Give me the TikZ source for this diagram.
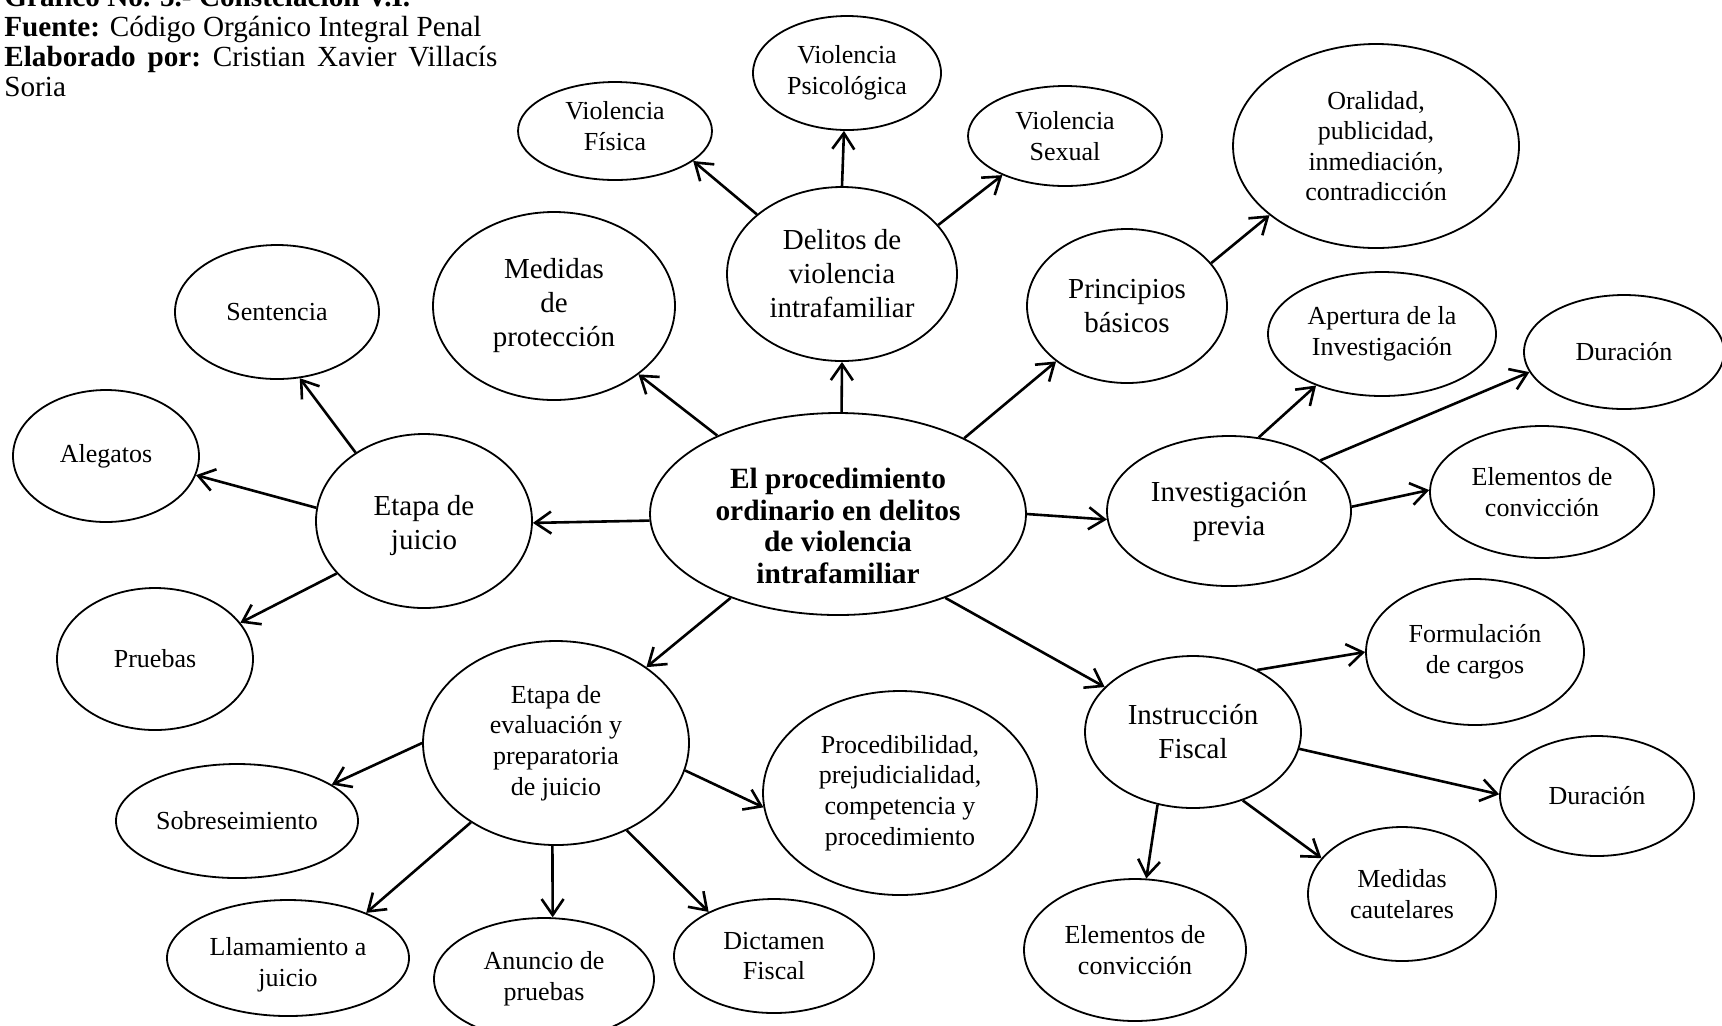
\documentclass[tikz,border=0pt]{standalone}
\usepackage{fontspec}
\setmainfont{Liberation Serif}
\usetikzlibrary{shapes.geometric,arrows.meta}
\begin{document}
\begin{tikzpicture}[x=0.5pt,y=-0.5pt,
  el/.style={ellipse,draw,line width=0.9pt,inner sep=0pt,align=center},
  leaf/.style={el,font=\fontsize{13}{15.3}\selectfont},
  mid/.style={el,font=\fontsize{14.5}{17}\selectfont},
  hdr/.style={anchor=base west,inner sep=0pt,font=\fontsize{14.6}{14.8}\selectfont},
  arr/.style={line width=1.3pt,-{Straight Barb[length=8pt,width=11pt]}}]
\useasboundingbox (0,0) rectangle (1722,1025);
% header
\node[hdr] (h1) at (4,6) {\textbf{Gráfico No. 5.- Constelación V.I.}};
\node[hdr] (h2) at (4,36) {\textbf{Fuente:} Código Orgánico Integral Penal};
\node[hdr] (h3) at (4,66) {\hbox to 246.5pt{\textbf{Elaborado}\hfill\textbf{por:}\hfill Cristian\hfill Xavier\hfill Villacís}};
\node[hdr] (h4) at (4,96) {Soria};
% nodes
\node[el,font=\bfseries\fontsize{14.7}{15.8}\selectfont,minimum width=188pt,minimum height=101pt] (c) at (838,514)
  {\rule{0pt}{22pt}El procedimiento\\ordinario en delitos\\de violencia\\intrafamiliar};
\node[mid,minimum width=115pt,minimum height=87pt] (delitos) at (842,274) {Delitos de\\violencia\\intrafamiliar};
\node[leaf,minimum width=97pt,minimum height=49pt] (vfisica) at (615,131) {Violencia\\Física\rule[-5pt]{0pt}{5pt}};
\node[leaf,minimum width=94pt,minimum height=57pt] (vpsico) at (847,73) {Violencia\\Psicológica};
\node[leaf,minimum width=97pt,minimum height=50pt] (vsexual) at (1065,136) {Violencia\\Sexual};
\node[mid,minimum width=121pt,minimum height=94pt] (medidas) at (554,306) {Medidas\\de\\protección};
\node[mid,minimum width=100pt,minimum height=77pt] (principios) at (1127,306) {Principios\\básicos};
\node[leaf,minimum width=143pt,minimum height=102pt] (oralidad) at (1376,146) {Oralidad,\\publicidad,\\inmediación,\\contradicción};
\node[leaf,minimum width=102pt,minimum height=67pt] (sentencia) at (277,312) {Sentencia};
\node[leaf,minimum width=93pt,minimum height=66pt] (alegatos) at (106,456) {Alegatos};
\node[mid,minimum width=108pt,minimum height=87pt] (juicio) at (424,521) {\rule{0pt}{15pt}Etapa de\\juicio};
\node[leaf,minimum width=98pt,minimum height=71pt] (pruebas) at (155,659) {Pruebas};
\node[leaf,minimum width=133pt,minimum height=102pt] (evaluacion) at (556,743)
  {Etapa de\\evaluación y\\preparatoria\\de juicio};
\node[leaf,minimum width=121pt,minimum height=57pt] (sobres) at (237,821) {Sobreseimiento};
\node[leaf,minimum width=121pt,minimum height=58pt] (llamamiento) at (288,958) {\rule{0pt}{16pt}Llamamiento a\\juicio};
\node[leaf,minimum width=110pt,minimum height=61pt] (anuncio) at (544,979) {Anuncio de\\pruebas};
\node[leaf,minimum width=100pt,minimum height=57pt] (dictamen) at (774,956) {Dictamen\\Fiscal};
\node[leaf,minimum width=137pt,minimum height=102pt] (procedib) at (900,793)
  {Procedibilidad,\\prejudicialidad,\\competencia y\\procedimiento};
\node[mid,minimum width=122pt,minimum height=75pt] (investigacion) at (1229,511) {Investigación\\previa};
\node[leaf,minimum width=114pt,minimum height=62pt] (apertura) at (1382,334) {Apertura de la\\Investigación};
\node[leaf,minimum width=100pt,minimum height=57pt] (duracion1) at (1624,352) {Duración};
\node[leaf,minimum width=112pt,minimum height=66pt] (elementos1) at (1542,492) {Elementos de\\convicción};
\node[mid,minimum width=108pt,minimum height=76pt] (instruccion) at (1193,732) {Instrucción\\Fiscal};
\node[leaf,minimum width=109pt,minimum height=73pt] (formulacion) at (1475,652) {Formulación\\de cargos};
\node[leaf,minimum width=97pt,minimum height=60pt] (duracion2) at (1597,796) {Duración};
\node[leaf,minimum width=94pt,minimum height=67pt] (cautelares) at (1402,894) {Medidas\\cautelares};
\node[leaf,minimum width=111pt,minimum height=71pt] (elementos2) at (1135,950) {Elementos de\\convicción};
% connectors
\draw[arr] (c.88) -- (delitos.-90);
\draw[arr] (c.147.7) -- (medidas.-39.7);
\draw[arr] (c.31.4) -- (principios.218.6);
\draw[arr] (c.182.7) -- (juicio.-1);
\draw[arr] (c.-0.9) -- (investigacion.184.2);
\draw[arr] (c.218) -- (evaluacion.40);
\draw[arr] (c.-38.6) -- (instruccion.153.4);
\draw[arr] (delitos.145.9) -- (vfisica.-21.1);
\draw[arr] (delitos.90) -- (vpsico.-93.6);
\draw[arr] (delitos.27.7) -- (vsexual.212.3);
\draw[arr] (principios.27.4) -- (oralidad.213.1);
\draw[arr] (juicio.135.4) -- (sentencia.-71.3);
\draw[arr] (juicio.173.2) -- (alegatos.-12.4);
\draw[arr] (juicio.211.8) -- (pruebas.23.4);
\draw[arr] (evaluacion.180.4) -- (sobres.21.7);
\draw[arr] (evaluacion.223.9) -- (llamamiento.30.7);
\draw[arr] (evaluacion.268.3) -- (anuncio.82.1);
\draw[arr] (evaluacion.-51.7) -- (dictamen.146.5);
\draw[arr] (evaluacion.-12.3) -- (procedib.186.3);
\draw[arr] (investigacion.68.7) -- (apertura.218.6);
\draw[arr] (investigacion.29.7) -- (duracion1.192.2);
\draw[arr] (investigacion.2.3) -- (elementos1.179.5);
\draw[arr] (instruccion.44.1) -- (formulacion.180.5);
\draw[arr] (instruccion.-9.9) -- (duracion2.179.4);
\draw[arr] (instruccion.-54.4) -- (cautelares.156.2);
\draw[arr] (instruccion.244.8) -- (elementos2.81.2);
\end{tikzpicture}
\end{document}
